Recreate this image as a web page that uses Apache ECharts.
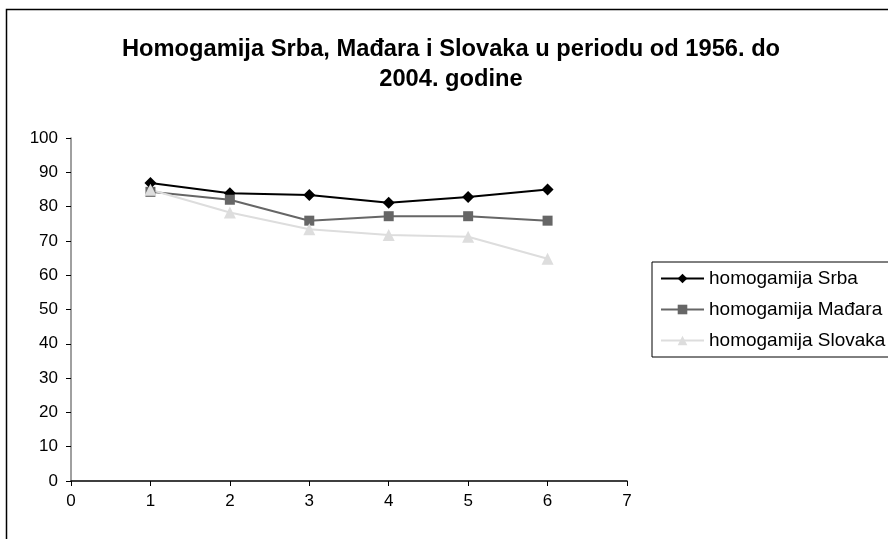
<!DOCTYPE html>
<html>
<head>
<meta charset="utf-8">
<script src="https://cdn.jsdelivr.net/npm/echarts@6/dist/echarts.min.js"></script>
<style>html,body{margin:0;padding:0;background:#fff;}#c{width:888px;height:539px;}</style>
</head>
<body>
<div id="c"></div>
<script>
const xValues = [1, 2, 3, 4, 5, 6];
const srba = [86.9, 83.9, 83.4, 81.1, 82.8, 85.0];
const madjara = [84.3, 82.0, 75.9, 77.2, 77.2, 75.9];
const slovaka = [84.9, 78.3, 73.4, 71.7, 71.2, 64.8];
const seriesNames = ['homogamija Srba', 'homogamija Mađara', 'homogamija Slovaka'];
const titleText = 'Homogamija Srba, Mađara i Slovaka u periodu od 1956. do\n2004. godine';

const pair = arr => xValues.map((x, i) => [x, arr[i]]);
const font = 'Arial, "Liberation Sans", sans-serif';

const chart = echarts.init(document.getElementById('c'));
chart.setOption({
  animation: false,
  backgroundColor: '#fff',
  graphic: [{
    type: 'rect', left: 4, top: 7, z: -1,
    shape: { x: 0, y: 0, width: 1000, height: 1000 },
    style: { fill: 'none', stroke: '#000', lineWidth: 1.5 }
  }],
  title: {
    text: titleText,
    left: 446, textAlign: 'center', top: 29,
    textStyle: { fontFamily: font, fontSize: 23.7, fontWeight: 'bold', color: '#000', lineHeight: 30 }
  },
  legend: {
    orient: 'vertical', left: 652, top: 262,
    padding: [7, 8, 7, 8],
    borderColor: '#000', borderWidth: 1,
    itemWidth: 43, itemHeight: 12, itemGap: 12,
    textStyle: { fontFamily: font, fontSize: 19, color: '#000', lineHeight: 19, padding: [0, 0, 0, 0] },
    data: seriesNames
  },
  grid: { left: 71, right: 261, top: 138, bottom: 58 },
  xAxis: {
    type: 'value', min: 0, max: 7, interval: 1,
    axisLine: { show: true, onZero: false, lineStyle: { color: '#000', width: 1.5 } },
    axisTick: { show: true, length: 5, lineStyle: { color: '#000' } },
    axisLabel: { fontFamily: font, fontSize: 17, color: '#000', margin: 12 },
    splitLine: { show: false }
  },
  yAxis: {
    type: 'value', min: 0, max: 100, interval: 10,
    axisLine: { show: true, lineStyle: { color: '#808080', width: 1.5 } },
    axisTick: { show: true, length: 5, lineStyle: { color: '#000' } },
    axisLabel: { fontFamily: font, fontSize: 17, color: '#000', margin: 13 },
    splitLine: { show: false }
  },
  series: [
    { name: seriesNames[0], type: 'line', data: pair(srba), symbol: 'diamond', symbolSize: 12,
      itemStyle: { color: '#000' }, lineStyle: { color: '#000', width: 2 } },
    { name: seriesNames[1], type: 'line', data: pair(madjara), symbol: 'rect', symbolSize: 10,
      itemStyle: { color: '#666' }, lineStyle: { color: '#666', width: 2 } },
    { name: seriesNames[2], type: 'line', data: pair(slovaka), symbol: 'triangle', symbolSize: 12,
      itemStyle: { color: '#ddd' }, lineStyle: { color: '#ddd', width: 2 } }
  ]
});
</script>
</body>
</html>
